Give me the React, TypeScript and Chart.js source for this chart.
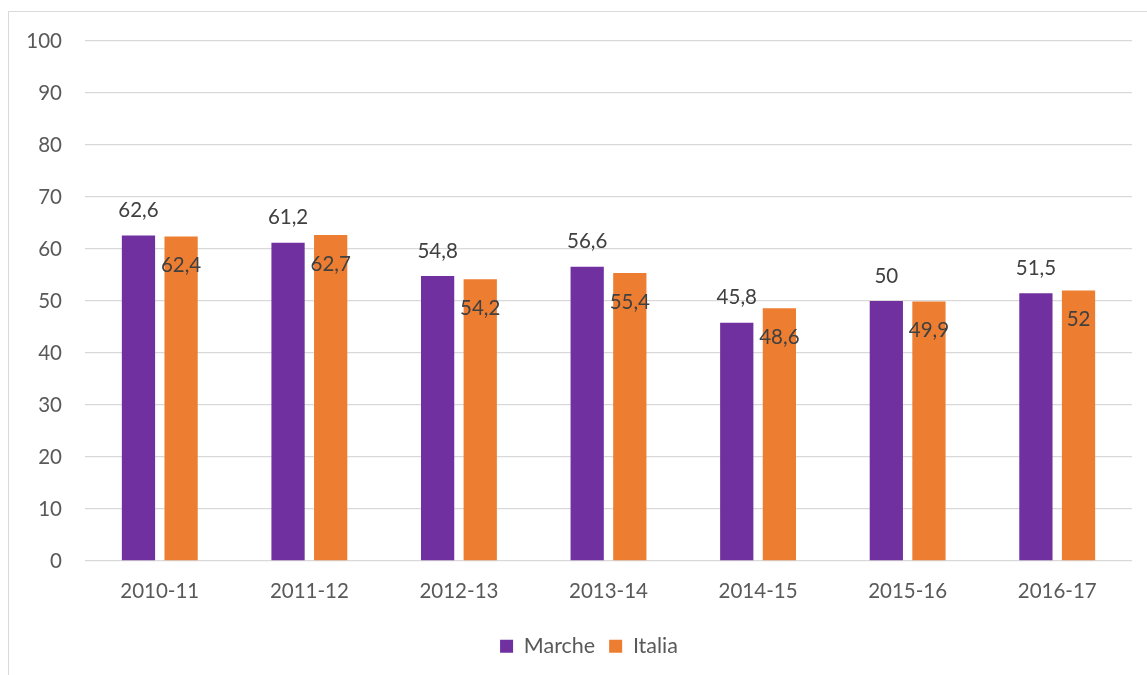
import React, { useEffect, useRef } from "react";
import { Chart, registerables } from "chart.js";

Chart.register(...registerables);

const categories = ["2010-11", "2011-12", "2012-13", "2013-14", "2014-15", "2015-16", "2016-17"];
const marche = [62.6, 61.2, 54.8, 56.6, 45.8, 50, 51.5];
const italia = [62.4, 62.7, 54.2, 55.4, 48.6, 49.9, 52];
const seriesNames = ["Marche", "Italia"];
const yTicks = [0, 10, 20, 30, 40, 50, 60, 70, 80, 90, 100];

const FONT = "Lato, 'Open Sans', sans-serif";
const FS = 20.5;

const labelPlugin = {
  id: "barLabels",
  afterDatasetsDraw(chart: any) {
    const ctx = chart.ctx;
    ctx.save();
    ctx.font = `${FS}px ${FONT}`;
    ctx.fillStyle = "#404040";
    ctx.textAlign = "center";
    ctx.textBaseline = "middle";
    chart.data.datasets.forEach((ds: any, di: number) => {
      const meta = chart.getDatasetMeta(di);
      meta.data.forEach((bar: any, i: number) => {
        const v = ds.data[i];
        const txt = String(v).replace(".", ",");
        const y = di === 0 ? bar.y - 25 : bar.y + 29;
        ctx.fillText(txt, bar.x, y);
      });
    });
    ctx.restore();
  },
};

// centre the legend on the whole chart frame (which extends past the right padding)
const legendShift = {
  id: "legendShift",
  afterLayout(chart: any) {
    if (chart.legend) {
      chart.legend.right += 37;
      chart.legend.width += 37;
    }
  },
};

export default function App() {
  const ref = useRef<HTMLCanvasElement>(null);
  useEffect(() => {
    if (!ref.current) return;
    const chart = new Chart(ref.current, {
      type: "bar",
      data: {
        labels: categories,
        datasets: [
          { label: seriesNames[0], data: marche, backgroundColor: "#7030A0" },
          { label: seriesNames[1], data: italia, backgroundColor: "#ED7D31" },
        ],
      },
      options: {
        animation: false,
        responsive: false,
        maintainAspectRatio: false,
        datasets: { bar: { categoryPercentage: 0.57, barPercentage: 0.78 } } as any,
        layout: { padding: { top: 29, right: 37, left: 0, bottom: 8 } },
        plugins: {
          tooltip: { enabled: false },
          legend: {
            position: "bottom",
            labels: {
              boxWidth: 13,
              boxHeight: 13,
              padding: 14,
              color: "#595959",
              font: { family: FONT, size: 21.5 },
            },
          },
        },
        scales: {
          x: {
            grid: { display: false, drawTicks: false },
            border: { display: false },
            ticks: { color: "#595959", font: { family: FONT, size: FS }, padding: 18, maxRotation: 0 },
            afterFit(scale: any) {
              scale.height = 60.5;
              scale.paddingLeft = 0;
              scale.paddingRight = 0;
            },
          },
          y: {
            min: 0,
            max: 100,
            afterBuildTicks(scale: any) {
              scale.ticks = yTicks.map((v) => ({ value: v }));
            },
            grid: { color: "#d9d9d9", lineWidth: 1.3, drawTicks: false },
            border: { display: false },
            ticks: { color: "#595959", font: { family: FONT, size: FS }, padding: 23 },
            afterFit(scale: any) {
              scale.width = 76;
              scale.paddingTop = 0;
              scale.paddingBottom = 0;
            },
          },
        },
      },
      plugins: [labelPlugin, legendShift],
    });
    return () => chart.destroy();
  }, []);

  return (
    <div
      style={{
        position: "fixed",
        left: 8,
        top: 11,
        width: 1170,
        height: 700,
        border: "1px solid #d9d9d9",
        background: "#fff",
      }}
    >
      <canvas ref={ref} width={1160} height={663} style={{ display: "block" }} />
    </div>
  );
}
